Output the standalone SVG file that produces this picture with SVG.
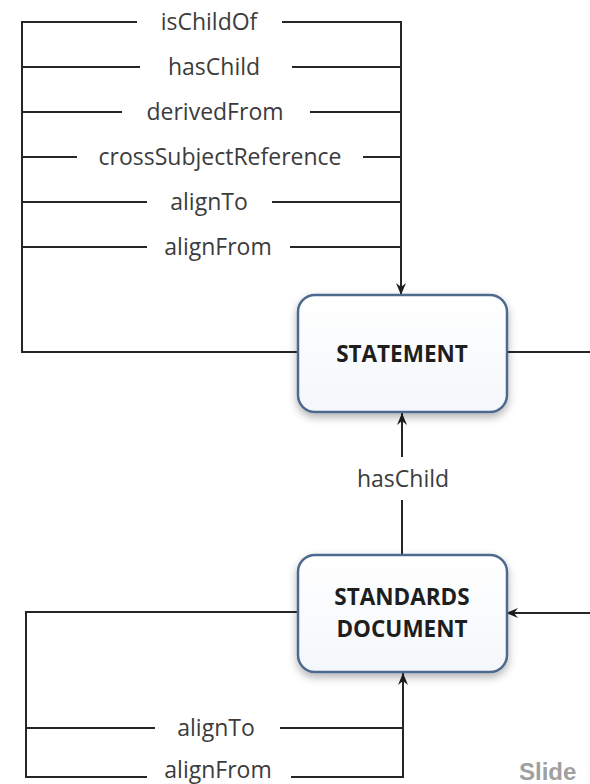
<svg xmlns="http://www.w3.org/2000/svg" width="590" height="784" viewBox="0 0 590 784">
  <defs>
    <style>
      .ln { fill: none; stroke: #262626; stroke-width: 2; }
      .lbl { font-family: "Open Sans", "Liberation Sans", sans-serif; font-size: 23px; fill: #3c3c3c; text-anchor: middle; }
      .node { fill: url(#nodeFill); stroke: #4d6a8e; stroke-width: 2.5; filter: url(#shadow); }
      .ntxt { font-family: "Open Sans", "Liberation Sans", sans-serif; font-size: 22.5px; font-weight: 700; fill: #1e1e1e; text-anchor: middle; }
      .slide { font-family: "Liberation Sans", Arial, sans-serif; font-size: 24px; font-weight: 700; fill: #a0a0a0; }
    </style>
    <linearGradient id="nodeFill" x1="0" y1="0" x2="0" y2="1">
      <stop offset="0" stop-color="#ffffff"/>
      <stop offset="1" stop-color="#f4f7fb"/>
    </linearGradient>
    <filter id="shadow" x="-20%" y="-20%" width="140%" height="150%">
      <feDropShadow dx="0" dy="4" stdDeviation="4" flood-color="#000000" flood-opacity="0.3"/>
    </filter>
    <marker id="arr" viewBox="0 0 12 10" refX="12" refY="5" markerWidth="12" markerHeight="10" markerUnits="userSpaceOnUse" orient="auto">
      <path d="M0,0 L12,5 L0,10 L4,5 Z" fill="#1e1e1e"/>
    </marker>
  </defs>
  <rect width="590" height="784" fill="#ffffff"/>

  <g id="connectors">
    <!-- top loop relations -->
    <path class="ln" d="M137,22 H22 V352 H298"/>
    <path class="ln" d="M282,22 H401 V295" marker-end="url(#arr)"/>
    <path class="ln" d="M22,67 H140"/>
    <path class="ln" d="M292,67 H401"/>
    <path class="ln" d="M22,112 H122"/>
    <path class="ln" d="M310,112 H401"/>
    <path class="ln" d="M22,157 H77"/>
    <path class="ln" d="M363,157 H401"/>
    <path class="ln" d="M22,202 H147"/>
    <path class="ln" d="M272,202 H401"/>
    <path class="ln" d="M22,247 H147"/>
    <path class="ln" d="M290,247 H401"/>
    <text class="lbl" x="209" y="30">isChildOf</text>
    <text class="lbl" x="214" y="75">hasChild</text>
    <text class="lbl" x="215" y="120">derivedFrom</text>
    <text class="lbl" x="220" y="165">crossSubjectReference</text>
    <text class="lbl" x="209" y="210">alignTo</text>
    <text class="lbl" x="218" y="255">alignFrom</text>

    <!-- STATEMENT to right edge -->
    <path class="ln" d="M507,352 H590"/>

    <!-- hasChild between nodes -->
    <path class="ln" d="M402,555 V500"/>
    <path class="ln" d="M402,457 V413" marker-end="url(#arr)"/>
    <text class="lbl" x="403" y="487">hasChild</text>

    <!-- incoming from right into STANDARDS DOCUMENT -->
    <path class="ln" d="M590,613 H506" marker-end="url(#arr)"/>

    <!-- bottom loop relations -->
    <path class="ln" d="M298,612 H26 V777 H147"/>
    <path class="ln" d="M291,777 H403 V673" marker-end="url(#arr)"/>
    <path class="ln" d="M26,728 H155"/>
    <path class="ln" d="M280,728 H403"/>
    <text class="lbl" x="216" y="736">alignTo</text>
    <text class="lbl" x="218" y="778">alignFrom</text>
  </g>

  <g id="statement">
    <rect class="node" x="298" y="295" width="209" height="117" rx="17" ry="17"/>
    <text class="ntxt" x="402" y="362">STATEMENT</text>
  </g>

  <g id="standards-document">
    <rect class="node" x="298" y="555" width="209" height="117" rx="17" ry="17"/>
    <text class="ntxt" x="402" y="605">STANDARDS</text>
    <text class="ntxt" x="402" y="637">DOCUMENT</text>
  </g>

  <text class="slide" x="519" y="780">Slide</text>
</svg>
